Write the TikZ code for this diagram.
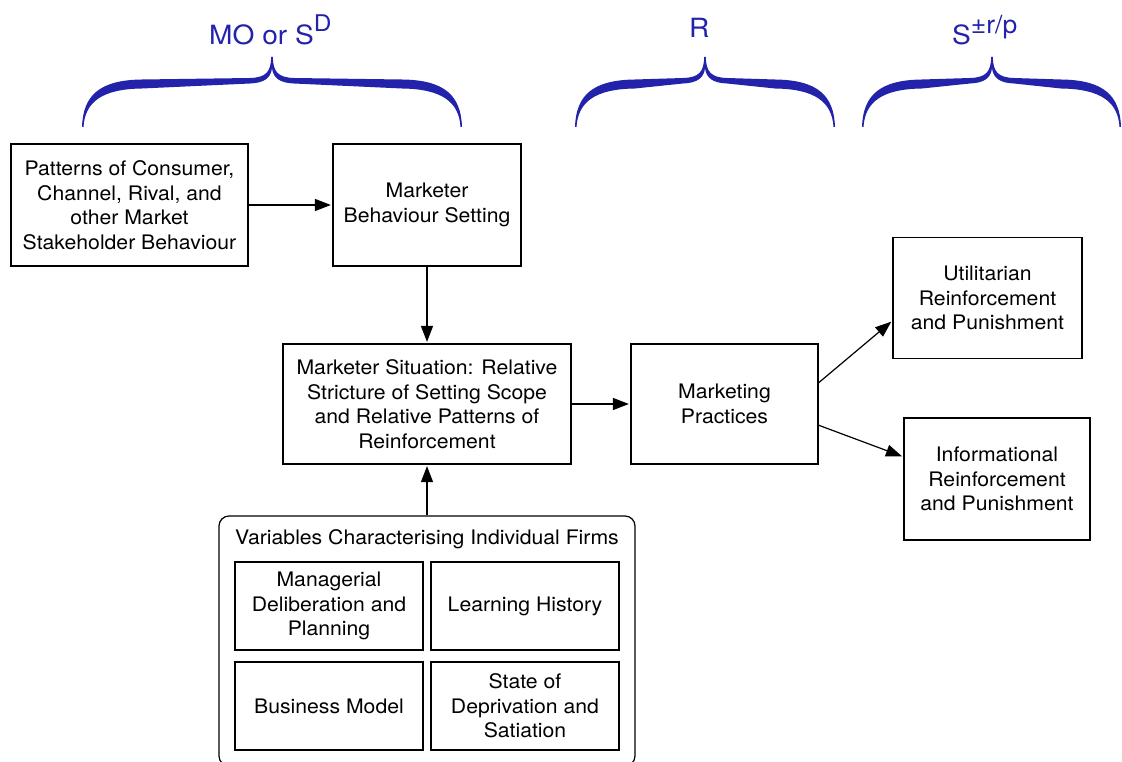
\documentclass[tikz,border=0pt]{standalone}
\usepackage{fontspec}
\setmainfont[FakeStretch=1.06]{TeX Gyre Heros}
\usetikzlibrary{arrows.meta,calc}
\definecolor{braceblue}{RGB}{34,34,170}

% Calligraphic curly brace: left end, tip, right end (x); y fixed
\newcommand\calbrace[3]{%
  \fill[braceblue]
    (#1,127) .. controls ({#1+1},95) and ({#1+18},80) .. ({#1+60},79.5)
    -- ({#2-22},78) .. controls ({#2-6},77.5) and ({#2-1.2},72) .. ({#2-0.8},57)
    -- ({#2+0.8},57) .. controls ({#2+1.2},72) and ({#2+6},77.5) .. ({#2+22},78)
    -- ({#3-60},79.5) .. controls ({#3-18},80) and ({#3-1},95) .. (#3,127)
    -- ({#3-1.5},127) .. controls ({#3-3},102) and ({#3-20},89) .. ({#3-60},88.5)
    -- ({#2+22},83.5) .. controls ({#2+8},83) and ({#2+1},78) .. (#2,68)
    .. controls ({#2-1},78) and ({#2-8},83) .. ({#2-22},83.5)
    -- ({#1+60},88.5) .. controls ({#1+20},89) and ({#1+3},102) .. ({#1+1.5},127)
    -- cycle;}

\tikzset{
  box/.style={draw, line width=1.2pt, align=center, inner sep=0pt,
    font=\fontsize{20}{24.5}\selectfont},
  lbl/.style={align=center, inner sep=0pt, font=\fontsize{20}{24.5}\selectfont},
  arr/.style={line width=1.2pt, shorten >=1.5pt,
    -{Triangle[length=16pt,width=12pt]}},
  bracelbl/.style={text=braceblue, inner sep=0pt, anchor=base west,
    font=\fontsize{26.5}{30}\selectfont},
}

\begin{document}
\begin{tikzpicture}[x=1pt,y=-1pt]
\useasboundingbox (0,0) rectangle (1122,762);

% brace groups and their labels
\calbrace{82}{272}{462}
\calbrace{575}{705}{835}
\calbrace{862}{992}{1121}
\node[bracelbl] (lmo) at (209,45) {MO or S\raisebox{13pt}{\fontsize{23}{23}\selectfont D}};
\node[bracelbl] (lr) at (689,38) {R};
\node[bracelbl] (ls) at (952,45) {S\raisebox{11pt}{\fontsize{25}{25}\selectfont ±r/p}};

% main boxes
\node[box, minimum width=237pt, minimum height=122pt] (pat) at (129.5,205)
  {Patterns of Consumer,\\Channel, Rival, and\\other Market\\Stakeholder Behaviour};
\node[box, minimum width=188pt, minimum height=122pt] (mbs) at (427,205)
  {Marketer\\Behaviour Setting};
\node[box, minimum width=288pt, minimum height=120pt] (sit) at (427,404)
  {Marketer Situation: Relative\\Stricture of Setting Scope\\and Relative Patterns of\\Reinforcement};
\node[box, minimum width=187pt, minimum height=120pt] (mp) at (724.5,404)
  {Marketing\\Practices};
\node[box, minimum width=189pt, minimum height=121pt] (util) at (987.5,298)
  {Utilitarian\\Reinforcement\\and Punishment};
\node[box, minimum width=186pt, minimum height=122pt] (info) at (997,479)
  {Informational\\Reinforcement\\and Punishment};

% firm-level variables
\node[draw, line width=1.2pt, rounded corners=10pt, minimum width=416pt,
  minimum height=250pt, inner sep=0pt] (firms) at (427,641) {};
\node[lbl] (ftitle) at (427,539.5) {Variables Characterising Individual Firms};
\node[box, minimum width=188pt, minimum height=88pt] (mdp) at (329,606)
  {Managerial\\Deliberation and\\Planning};
\node[box, minimum width=188pt, minimum height=88pt] (lh) at (525,606)
  {Learning History};
\node[box, minimum width=188pt, minimum height=88pt] (bm) at (329,706)
  {Business Model};
\node[box, minimum width=188pt, minimum height=88pt] (sds) at (525,706)
  {State of\\Deprivation and\\Satiation};

% connectors
\draw[arr] (pat.east) -- (mbs.west);
\draw[arr] (mbs.south) -- (sit.north);
\draw[arr] (sit.east) -- (mp.west);
\draw[arr] (firms.north) -- (sit.south);
\draw[arr] ($(mp.north east)!0.325!(mp.south east)$) -- ($(util.north west)!0.686!(util.south west)$);
\draw[arr] ($(mp.north east)!0.675!(mp.south east)$) -- ($(info.north west)!0.32!(info.south west)$);
\end{tikzpicture}
\end{document}
